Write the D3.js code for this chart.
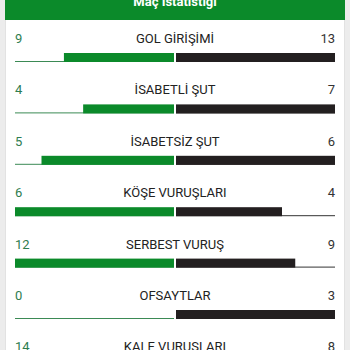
<!DOCTYPE html>
<html>
<head>
<meta charset="utf-8">
<script src="https://cdn.jsdelivr.net/npm/d3@7"></script>
<style>
  body { margin: 0; background: #ececec; }
  svg { display: block; font-family: Roboto, "Noto Sans", sans-serif; }
</style>
</head>
<body>
<div id="chart"></div>
<script>
// Maç istatistikleri
var labels = ["GOL GİRİŞİMİ", "İSABETLİ ŞUT", "İSABETSİZ ŞUT", "KÖŞE VURUŞLARI", "SERBEST VURUŞ", "OFSAYTLAR", "KALE VURUŞLARI"];
var home = [9, 4, 5, 6, 12, 0, 14];
var away = [13, 7, 6, 4, 9, 3, 8];

var W = 350, H = 350;
var green = "#0b8a2a", dark = "#231f20";

var svg = d3.select("#chart").append("svg")
  .attr("width", W)
  .attr("height", H);

// kart
svg.append("rect")
  .attr("x", 5.5).attr("y", -2).attr("width", 339).attr("height", H + 4)
  .attr("fill", "#fff").attr("stroke", "#e2e2e2");

// başlık
svg.append("rect")
  .attr("x", 5).attr("y", 0).attr("width", 340).attr("height", 20)
  .attr("fill", green);
svg.append("text")
  .attr("x", W / 2).attr("y", 6)
  .attr("text-anchor", "middle")
  .attr("fill", "#fff")
  .attr("font-weight", "bold")
  .attr("font-size", 13)
  .text("Maç İstatistiği");

var rowY = d3.scaleLinear().domain([0, 1]).range([43, 94.4]);
var half = 159;

labels.forEach(function(lab, i) {
  var y = rowY(i);
  var g = svg.append("g");
  var x = d3.scaleLinear().domain([0, Math.max(home[i], away[i])]).range([0, half]);

  g.append("text").attr("x", 15).attr("y", y)
    .attr("font-size", 13).attr("fill", "#2e7d4f").text(home[i]);
  g.append("text").attr("x", 335).attr("y", y).attr("text-anchor", "end")
    .attr("font-size", 13).attr("fill", "#333").text(away[i]);
  g.append("text").attr("x", W / 2).attr("y", y).attr("text-anchor", "middle")
    .attr("font-size", 13).attr("fill", "#222").text(lab);

  var by = y + 10;
  // ince çizgiler
  g.append("line").attr("x1", 15).attr("x2", 174).attr("y1", by + 8.5).attr("y2", by + 8.5)
    .attr("stroke", "#3b8a55").attr("stroke-width", 1);
  g.append("line").attr("x1", 176).attr("x2", 335).attr("y1", by + 8.5).attr("y2", by + 8.5)
    .attr("stroke", "#333").attr("stroke-width", 1);

  g.append("rect")
    .attr("x", 174 - x(home[i])).attr("y", by)
    .attr("width", x(home[i])).attr("height", 9)
    .attr("fill", green);
  g.append("rect")
    .attr("x", 176).attr("y", by)
    .attr("width", x(away[i])).attr("height", 9)
    .attr("fill", dark);
});
</script>
</body>
</html>
